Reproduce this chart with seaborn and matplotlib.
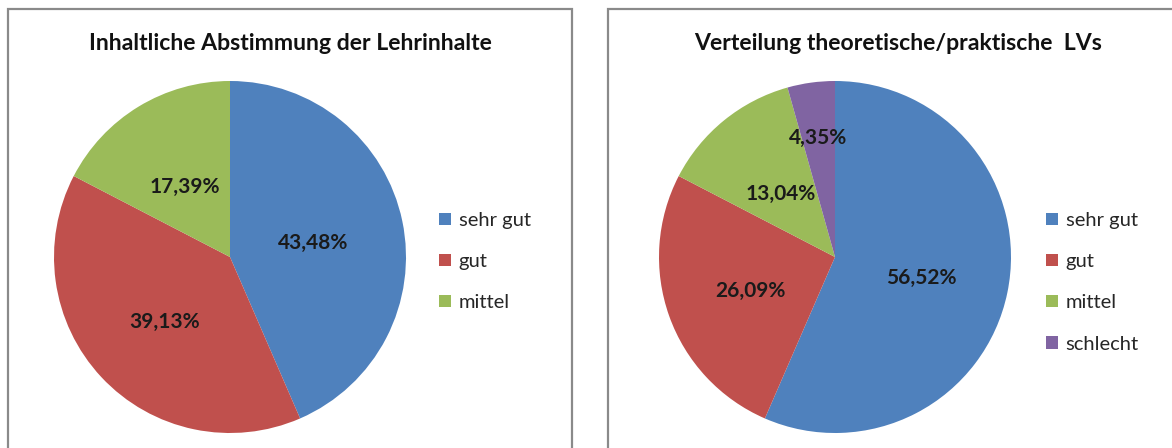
import numpy as np
import matplotlib
matplotlib.use("Agg")
import matplotlib.pyplot as plt
import seaborn as sns
from matplotlib.patches import Rectangle

# data
categories = ["sehr gut", "gut", "mittel", "schlecht"]
left_title = "Inhaltliche Abstimmung der Lehrinhalte"
left_values = [43.48, 39.13, 17.39]
right_title = "Verteilung theoretische/praktische  LVs"
right_values = [56.52, 26.09, 13.04, 4.35]

sns.set_theme(style="white")
plt.rcParams["font.family"] = ["Lato", "DejaVu Sans"]

office = sns.color_palette(["#4F81BD", "#C0504D", "#9BBB59", "#8064A2"])

W, H = 1172, 448
fig = plt.figure(figsize=(W / 100, H / 100), dpi=100)


def fx(px):
    return px / W


def fy(py):
    return 1 - py / H


# chart area frames (bottom edge is cut off in the screenshot)
for x0, x1 in [(8, 572), (608, 1190)]:
    fig.patches.append(Rectangle((fx(x0), fy(470)), fx(x1 - x0), (470 - 9) / H,
                                 transform=fig.transFigure, fill=False,
                                 edgecolor="#8a8a8a", linewidth=1.6, clip_on=False))


def draw_pie(cx, values, title, title_x, label_dist, legend_x):
    r = 176
    cy = 257
    ax = fig.add_axes([fx(cx - r), fy(cy + r), 2 * r / W, 2 * r / H])
    labels = categories[:len(values)]
    wedges, _, autotexts = ax.pie(
        values, colors=office[:len(values)], startangle=90, counterclock=False,
        autopct=lambda p: f"{p:.2f}%".replace(".", ","),
        wedgeprops=dict(linewidth=0), textprops=dict(fontsize=15, fontweight="bold",
                                                        color="#1a1a1a"))
    # move percentage labels radially, like Excel's placement
    for w, t, d in zip(wedges, autotexts, label_dist):
        ang = np.deg2rad((w.theta1 + w.theta2) / 2)
        t.set_position((d * np.cos(ang), d * np.sin(ang) - 0.02))
    ax.set_xlim(-1, 1)
    ax.set_ylim(-1, 1)
    ax.set_aspect("equal")
    ax.axis("off")
    fig.text(fx(title_x), fy(43), title, ha="center", va="center",
             fontsize=16.6, fontweight="bold", color="#111111")
    fig.legend(wedges, labels, loc="upper left",
               bbox_to_anchor=(fx(legend_x), fy(212)), frameon=False,
               fontsize=14.5, handlelength=0.58, handleheight=0.58,
               handletextpad=0.4, labelspacing=1.2, labelcolor="#262626",
               borderaxespad=0, borderpad=0)


draw_pie(230, left_values, left_title, 290, [0.48, 0.51, 0.49], 439)
draw_pie(835, right_values, right_title, 898, [0.50, 0.51, 0.49, 0.70], 1046)

fig.savefig("out.png", dpi=100)
